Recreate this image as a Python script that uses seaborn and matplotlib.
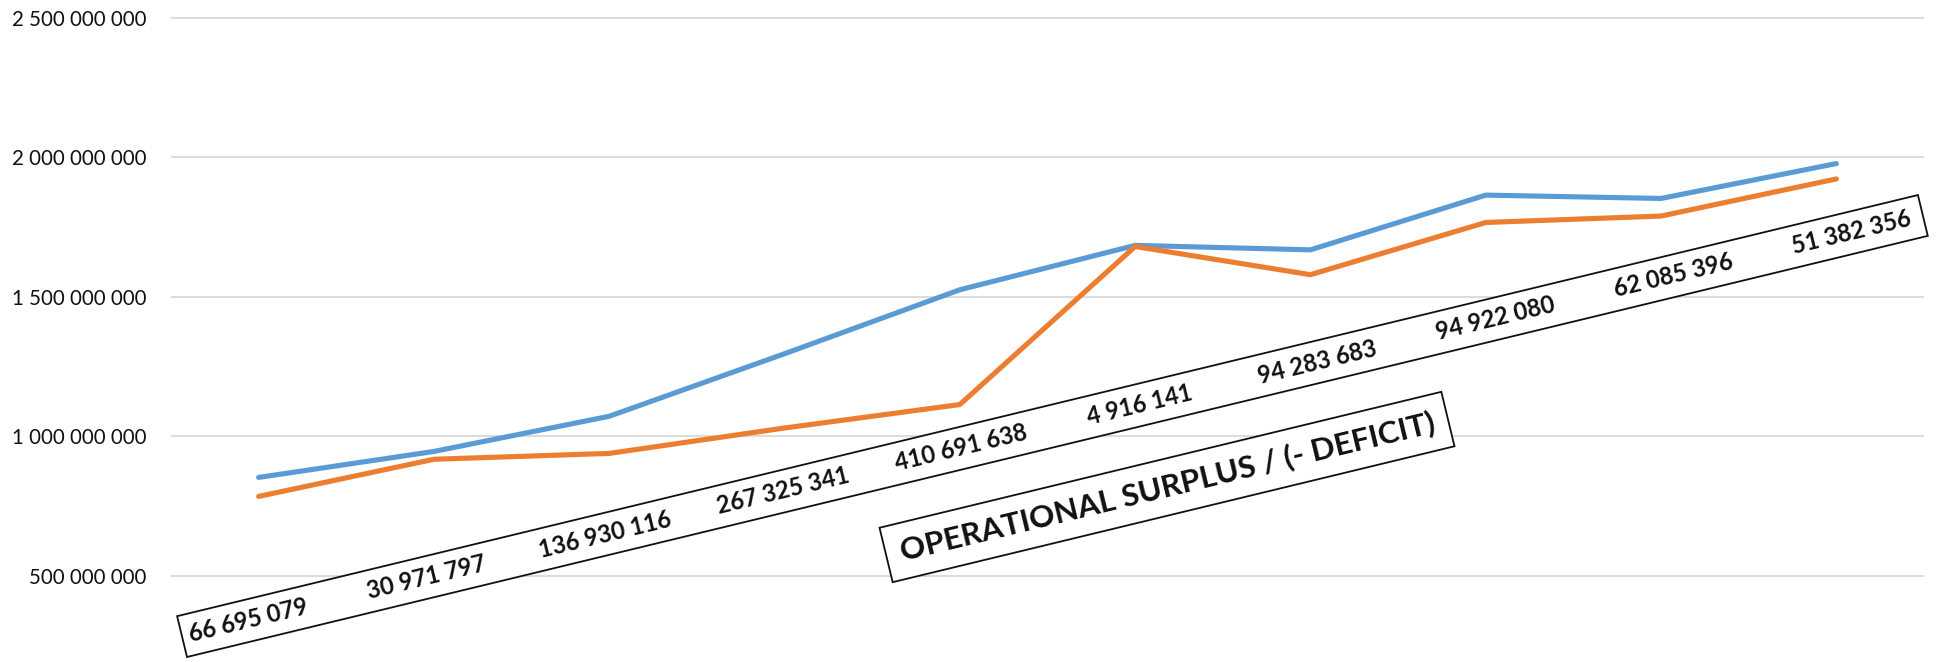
import numpy as np
import pandas as pd
import matplotlib
matplotlib.use("Agg")
import matplotlib.pyplot as plt
import seaborn as sns
from matplotlib.patches import Rectangle
from matplotlib.ticker import FuncFormatter

# ---------------- data ----------------
periods = ["P1", "P2", "P3", "P4", "P5", "P6", "P7", "P8", "P9", "P10"]
income_m = [853, 946, 1072, 1296, 1525, 1684, 1668, 1864, 1852, 1977]
expenditure_m = [785, 918, 939, 1030, 1114, 1680, 1579, 1766, 1789, 1922]
surplus_labels = ["66 695 079", "30 971 797", "136 930 116", "267 325 341",
                  "410 691 638", "4 916 141", "94 283 683", "94 922 080",
                  "62 085 396", "51 382 356"]
series_names = ["Income", "Expenditure"]
y_ticks = [500_000_000, 1_000_000_000, 1_500_000_000, 2_000_000_000, 2_500_000_000]
box_title = "OPERATIONAL SURPLUS / (- DEFICIT)"

# ---------------- style ----------------
W, H = 1939, 662
BLUE = "#5B9BD5"
ORANGE = "#ED7D31"
TXT = "#111111"
FAM = ["Lato", "DejaVu Sans"]

sns.set_theme(style="white")
plt.rcParams["font.family"] = FAM

fig = plt.figure(figsize=(W / 100, H / 100), dpi=100)
renderer = fig.canvas.get_renderer()


def fit_size(text, target_px, weight="normal"):
    t = fig.text(0, 0, text, fontsize=10, family=FAM, fontweight=weight)
    w = t.get_window_extent(renderer).width
    t.remove()
    return 10 * target_px / w


tick_fs = fit_size("2 500 000 000", 134)
val_fs = fit_size("66 695 079", 122, "bold")
title_fs = fit_size(box_title, 548, "bold")

ax = fig.add_axes([171 / W, 0, (1924 - 171) / W, 1])

df = pd.DataFrame({
    "period": periods * 2,
    "value": [v * 1e6 for v in income_m] + [v * 1e6 for v in expenditure_m],
    "series": [series_names[0]] * len(periods) + [series_names[1]] * len(periods),
})

sns.lineplot(data=df, x="period", y="value", hue="series",
             hue_order=series_names, palette=[BLUE, ORANGE],
             linewidth=3.7, legend=False, sort=False, ax=ax,
             solid_capstyle="round", solid_joinstyle="round")

ax.set_xlim(-0.5, len(periods) - 0.5)
ax.set_ylim(192e6, 2.5627e9)
ax.set_yticks(y_ticks)
ax.yaxis.set_major_formatter(FuncFormatter(lambda v, p: f"{int(round(v)):,}".replace(",", " ")))
ax.set_xticks([])
ax.set_xlabel("")
ax.set_ylabel("")
ax.grid(False)
ax.yaxis.grid(True, color="#d9d9d9", linewidth=1.3)
ax.set_axisbelow(True)
for s in ax.spines.values():
    s.set_visible(False)
ax.tick_params(axis="y", length=0, pad=17.5, labelsize=tick_fs, labelcolor=TXT)
ax.patch.set_alpha(0)

# ---------------- rotated text boxes (overlay in pixel units) ----------------
ov = fig.add_axes([0, 0, 1, 1])
ov.set_xlim(0, W)
ov.set_ylim(0, H)
ov.axis("off")
ov.patch.set_alpha(0)

ANG = 13.6
th = np.deg2rad(ANG)
u = np.array([np.cos(th), np.sin(th)])
n = np.array([-np.sin(th), np.cos(th)])

# box with surplus values
b1_bl = np.array([187.0, 5.0])
b1_len, b1_h = 1791.0, 42.0
ov.add_patch(Rectangle(b1_bl, b1_len, b1_h, angle=ANG, facecolor="white",
                       edgecolor=TXT, linewidth=1.3, zorder=3))
a0, a1 = 68.0, 1718.0
for k, lab in enumerate(surplus_labels):
    a = a0 + k * (a1 - a0) / (len(surplus_labels) - 1)
    c = b1_bl + a * u + (b1_h / 2) * n
    ov.text(c[0], c[1], lab, rotation=ANG, rotation_mode="anchor",
            ha="center", va="center", fontsize=val_fs, fontweight="bold",
            color=TXT, zorder=4)

# title box
b2_c = np.array([1167.0, H - 487.0])
b2_len, b2_h = 578.0, 56.0
b2_bl = b2_c - (b2_len / 2) * u - (b2_h / 2) * n
ov.add_patch(Rectangle(b2_bl, b2_len, b2_h, angle=ANG, facecolor="white",
                       edgecolor=TXT, linewidth=1.3, zorder=3))
ov.text(b2_c[0], b2_c[1], box_title, rotation=ANG, rotation_mode="anchor",
        ha="center", va="center", fontsize=title_fs, fontweight="bold",
        color=TXT, zorder=4)

fig.savefig("out.png", dpi=100, facecolor="white")
